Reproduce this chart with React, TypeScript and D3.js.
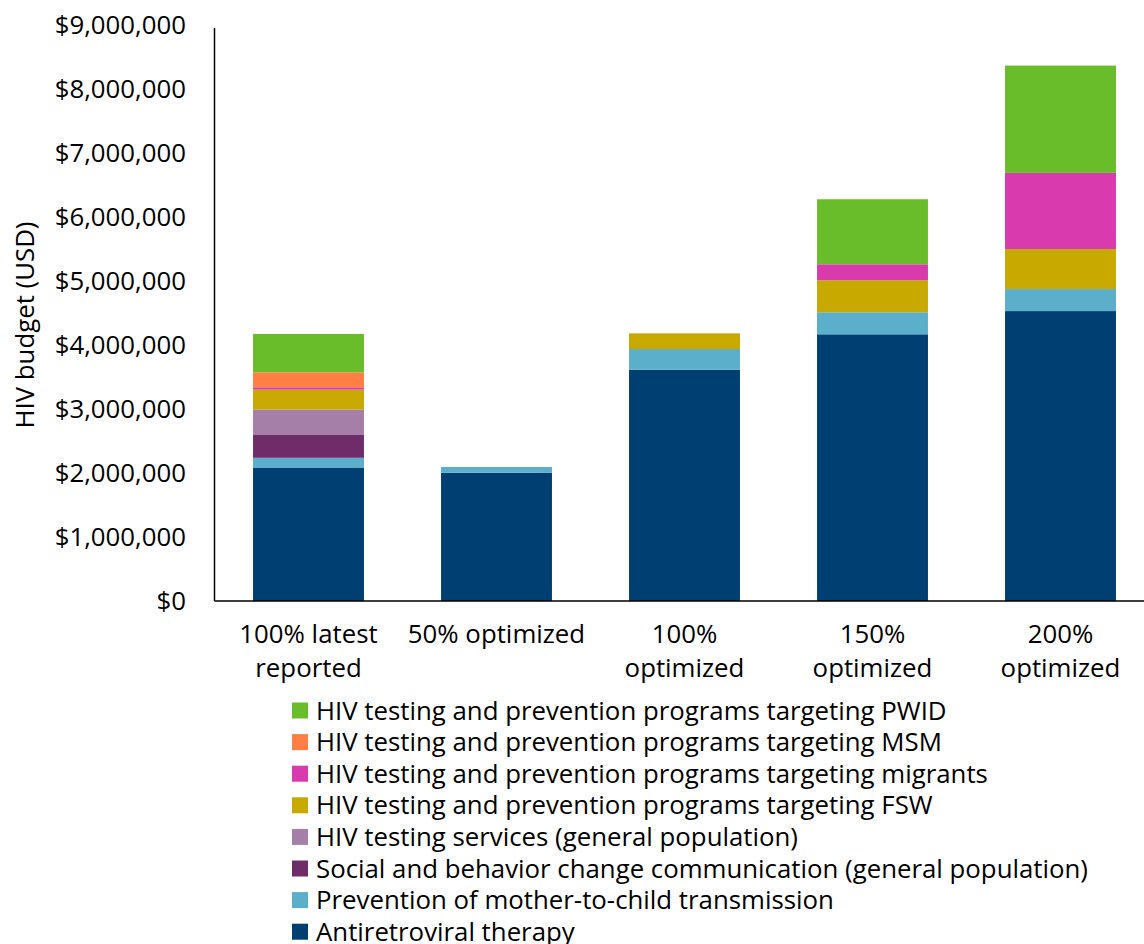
import React from "react";
import * as d3 from "d3";

const categories = ["100% latest reported", "50% optimized", "100% optimized", "150% optimized", "200% optimized"];
const categoryLines = [["100% latest", "reported"], ["50% optimized"], ["100%", "optimized"], ["150%", "optimized"], ["200%", "optimized"]];

const seriesNames = [
  "Antiretroviral therapy",
  "Prevention of mother-to-child transmission",
  "Social and behavior change communication (general population)",
  "HIV testing services (general population)",
  "HIV testing and prevention programs targeting FSW",
  "HIV testing and prevention programs targeting migrants",
  "HIV testing and prevention programs targeting MSM",
  "HIV testing and prevention programs targeting PWID",
];
const seriesColors = ["#003F72", "#5BAFCB", "#6E2C69", "#A57FA8", "#C8A900", "#D93AAE", "#FF7F45", "#6ABD2A"];

const art = [2078000, 2005000, 3614000, 4167000, 4530000];
const pmtct = [160000, 89000, 323000, 344000, 344000];
const sbcc = [365000, 0, 0, 0, 0];
const hts = [390000, 0, 0, 0, 0];
const fsw = [310000, 0, 245000, 500000, 625000];
const migrants = [36000, 0, 0, 250000, 1190000];
const msm = [234000, 0, 0, 0, 0];
const pwid = [600000, 0, 0, 1016000, 1677000];
const seriesValues = [art, pmtct, sbcc, hts, fsw, migrants, msm, pwid];

const yTicks = [0, 1000000, 2000000, 3000000, 4000000, 5000000, 6000000, 7000000, 8000000, 9000000];

const W = 1144, H = 944;
const FONT = "'Open Sans', sans-serif";
const FS = 25.8;

export default function App() {
  const left = 214.5, right = 1154.5, top = 25, bottom = 601;
  const x = d3.scaleBand<string>().domain(categories).range([left, right]).paddingInner(0.41).paddingOuter(0.205);
  const y = d3.scaleLinear().domain([0, 9000000]).range([bottom, top]);
  const fmt = (v: number) => "$" + d3.format(",")(v);

  const table = categories.map((c, i) => {
    const row: any = { cat: c };
    seriesNames.forEach((s, j) => (row[s] = seriesValues[j][i]));
    return row;
  });
  const stacked = d3.stack<any>().keys(seriesNames)(table);

  const legendOrder = [...seriesNames].reverse();
  const legendColors = [...seriesColors].reverse();

  return (
    <svg width={W} height={H} style={{ position: "absolute", left: 0, top: 0, background: "#fff" }} fontFamily={FONT}>
      {stacked.map((layer, j) => (
        <g key={j} fill={seriesColors[j]}>
          {layer.map((d, i) => {
            const h = y(d[0]) - y(d[1]);
            if (h <= 0) return null;
            return <rect key={i} x={x(categories[i])} y={y(d[1])} width={x.bandwidth()} height={h} />;
          })}
        </g>
      ))}
      <line x1={left} x2={left} y1={28} y2={bottom} stroke="#000" strokeWidth={1.5} />
      <line x1={left} x2={W} y1={bottom} y2={bottom} stroke="#000" strokeWidth={1.5} />
      {yTicks.map((t) => (
        <text key={t} x={186} y={y(t)} dy="0.35em" textAnchor="end" fontSize={FS} fill="#000">
          {fmt(t)}
        </text>
      ))}
      <text transform={`translate(25,325) rotate(-90)`} textAnchor="middle" dy="0.35em" fontSize={FS} fill="#000">
        HIV budget (USD)
      </text>
      {categoryLines.map((lines, i) => (
        <text key={i} x={x(categories[i])! + x.bandwidth() / 2} textAnchor="middle" fontSize={FS} fill="#000">
          {lines.map((l, k) => (
            <tspan key={k} x={x(categories[i])! + x.bandwidth() / 2} y={634 + k * 34} dy="0.35em">
              {l}
            </tspan>
          ))}
        </text>
      ))}
      {legendOrder.map((s, k) => (
        <g key={s} transform={`translate(292,${710.5 + k * 31.6})`}>
          <rect x={0} y={-8} width={16} height={16} fill={legendColors[k]} />
          <text x={24} dy="0.35em" fontSize={FS} fill="#000">
            {s}
          </text>
        </g>
      ))}
    </svg>
  );
}
